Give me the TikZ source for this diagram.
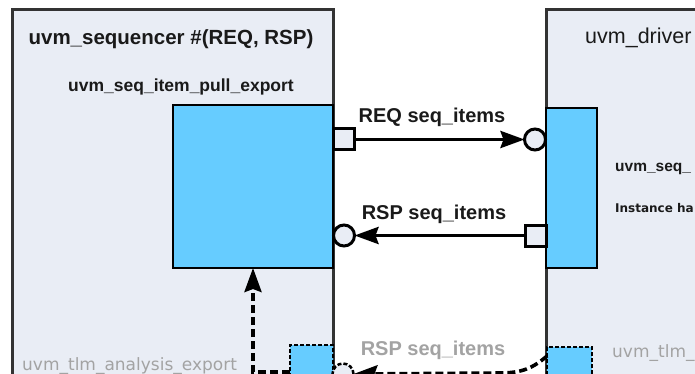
\documentclass[tikz,border=0pt]{standalone}
\usepackage{fontspec}
\setmainfont{Liberation Sans}
\newfontfamily\dvs{DejaVu Sans}
\usetikzlibrary{arrows.meta,calc}
\definecolor{panel}{HTML}{E9EDF5}
\definecolor{portblue}{HTML}{66CCFF}
\definecolor{frame}{HTML}{333333}
\definecolor{ghost}{HTML}{A3A3A3}
\definecolor{ink}{HTML}{1A1A1A}

\tikzset{
  box/.style={rectangle, inner sep=0pt, outer sep=0pt, anchor=north west},
  compbox/.style={box, draw=frame, fill=panel, line width=3pt},
  bluebox/.style={box, draw=black, fill=portblue, line width=2.2pt},
  anabox/.style={box, draw=black, fill=portblue, line width=2.5pt, dash pattern=on 4pt off 2pt},
  portsq/.style={rectangle, inner sep=0pt, outer sep=0pt, draw=black, fill=panel, line width=3pt,
    minimum width=21pt, minimum height=21pt},
  portcirc/.style={circle, inner sep=0pt, outer sep=0pt, draw=black, fill=panel, line width=3pt,
    minimum size=21pt},
  flow/.style={draw=black, line width=3.6pt, -{Stealth[length=24pt,width=17pt,inset=3pt]}},
  dflow/.style={flow, dash pattern=on 8pt off 4pt},
  title/.style={font=\fontsize{20.5}{24}\selectfont\bfseries, text=ink, inner sep=0pt},
  lbl/.style={font=\fontsize{20}{23}\selectfont\bfseries, text=ink, inner sep=0pt},
  small/.style={font=\fontsize{17.5}{21}\selectfont\bfseries, text=ink, inner sep=0pt},
}

\begin{document}
\begin{tikzpicture}[x=1pt,y=-1pt]
\useasboundingbox (0,0) rectangle (695,374);
\clip (0,0) rectangle (695,374);
\fill[white] (0,0) rectangle (695,374);

% sequencer and driver components
\node[compbox, minimum width=321pt, minimum height=420pt] (seq) at (12,10) {};
\node[compbox, minimum width=200pt, minimum height=420pt] (drv) at (546,10) {};

% pull export / pull port blocks
\node[bluebox, minimum width=160pt, minimum height=163pt] (seqexp) at (173,105) {};
\node[bluebox, minimum width=51pt, minimum height=160pt] (drvport) at (546,108) {};

% analysis export / analysis port blocks
\node[anabox, minimum width=43pt, minimum height=60pt] (seqana) at (290,345) {};
\node[anabox, minimum width=45pt, minimum height=60pt] (drvana) at (547,347) {};

% ports on the REQ / RSP channels
\node[portsq] (reqsq) at (344,139.5) {};
\node[portcirc] (reqcirc) at (535,139.5) {};
\node[portsq] (rspsq) at (536,235.5) {};
\node[portcirc] (rspcirc) at (344,235.5) {};
\node[portcirc, draw=black, fill=panel, line width=2.5pt, dash pattern=on 4pt off 2pt] (anacirc) at (343,374) {};

% connectors
\draw[flow] (reqsq.east) -- (reqcirc.west);
\draw[flow] (rspsq.west) -- (rspcirc.east);
\coordinate (anabend) at (253,372);
\draw[dflow] (seqana.west |- anabend) -- (anabend) -- (anabend |- seqexp.south);
\draw[dflow] ([yshift=-9pt]drvana.north west) .. controls (533,368) and (522,373) .. (500,373) -- (anacirc.east);

% texts
\node[title] (seqtitle) at (171,39) {uvm\_sequencer \#(REQ, RSP)};
\node[font=\fontsize{21.5}{25}\selectfont, text=ink, inner sep=0pt, anchor=west] (drvtitle) at (585,38) {uvm\_driver};
\node[small] (explbl) at (181,87) {uvm\_seq\_item\_pull\_export};
\node[font=\fontsize{15.5}{19}\selectfont\bfseries, text=ink, inner sep=0pt, anchor=west] (portlbl) at (615,169) {uvm\_seq\_};
\node[font=\dvs\fontsize{12}{14}\selectfont\bfseries, text=ink, inner sep=0pt, anchor=west] (instlbl) at (615,208) {Instance ha};
\node[lbl] (reqlbl) at (432,117) {REQ seq\_items};
\node[lbl] (rsplbl) at (434,214) {RSP seq\_items};
\node[lbl, text=ghost] (anarsp) at (433,350) {RSP seq\_items};
\node[font=\dvs\fontsize{17}{20}\selectfont, text=ghost, inner sep=0pt, anchor=base west] (anaexp) at (22,370) {uvm\_tlm\_analysis\_export};
\node[font=\dvs\fontsize{17}{20}\selectfont, text=ghost, inner sep=0pt, anchor=west] (anaport) at (612,353) {uvm\_tlm\_};
\end{tikzpicture}
\end{document}
